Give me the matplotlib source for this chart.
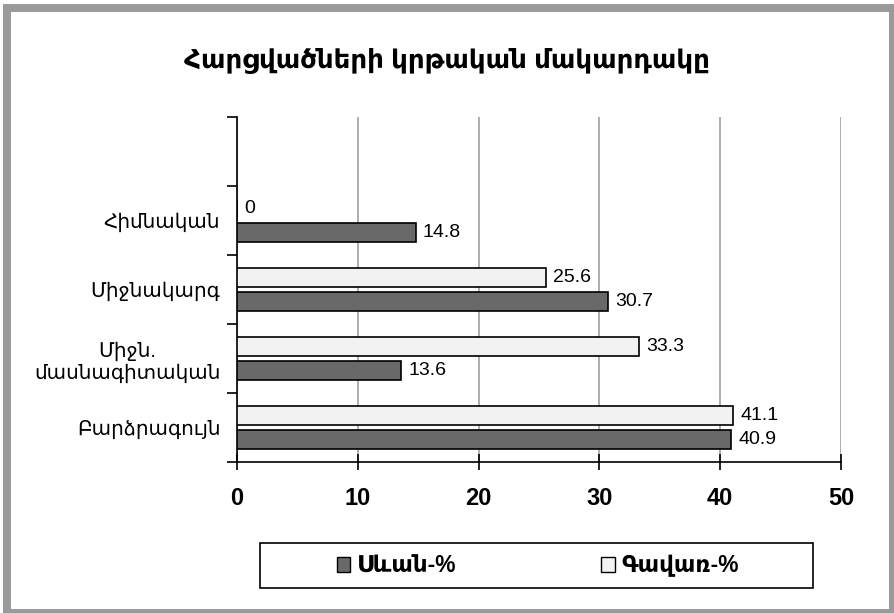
import matplotlib
matplotlib.use("Agg")
import matplotlib.pyplot as plt
from matplotlib.patches import Rectangle, Patch
import numpy as np

title = "Հարցվածների կրթական մակարդակը"
categories = ["Բարձրագույն", "Միջն.\nմասնագիտական", "Միջնակարգ", "Հիմնական", ""]
sevan = [40.9, 13.6, 30.7, 14.8]
gavar = [41.1, 33.3, 25.6, 0]
series_names = ["Սևան-%", "Գավառ-%"]
xticks = [0, 10, 20, 30, 40, 50]

FONT = ["Liberation Sans", "DejaVu Sans"]
plt.rcParams["font.family"] = FONT

W, H = 894, 613
fig = plt.figure(figsize=(W / 100, H / 100), dpi=100, facecolor="white")

# gray frame
fig.patches.append(Rectangle((3 / W, 0), 1 - 3 / W, 1 - 4 / H, transform=fig.transFigure,
                             facecolor="#9a9a9a", edgecolor="none", zorder=-3))
fig.patches.append(Rectangle((11 / W, 4 / H), (889 - 11) / W, (609 - 12) / H, transform=fig.transFigure,
                             facecolor="white", edgecolor="none", zorder=-2))
# legend frame
fig.patches.append(Rectangle((260 / W, 1 - 588 / H), (813 - 260) / W, (588 - 543) / H,
                             transform=fig.transFigure, facecolor="white", edgecolor="black",
                             linewidth=1.2, zorder=-1))

ax = fig.add_axes([237 / W, 1 - 462 / H, (841 - 237) / W, (462 - 117) / H])
ax.set_facecolor("none")

n = len(sevan)
y = np.arange(n)
off = 0.17
h = 0.27
b1 = ax.barh(y - off, sevan, height=h, color="#696969", edgecolor="black", linewidth=1.2, zorder=3)
b2 = ax.barh(y + off, gavar, height=h, color="#f2f2f2", edgecolor="black", linewidth=1.2, zorder=3)
ax.bar_label(b1, labels=[f"{v:g}" for v in sevan], padding=5, fontsize=14, family=FONT)
ax.bar_label(b2, labels=[f"{v:g}" for v in gavar], padding=5, fontsize=14, family=FONT)

ax.set_xlim(0, 50)
ax.set_ylim(-0.5, len(categories) - 0.5)
ax.set_xticks(xticks)
ax.set_xticklabels([str(t) for t in xticks], fontsize=17, fontweight="bold", family=FONT)
ax.xaxis.grid(True, color="#a0a0a0", linewidth=1.2, zorder=0)
ax.set_axisbelow(True)

ax.set_yticks(np.arange(len(categories) + 1) - 0.5, minor=False)
ax.set_yticklabels([])
ax.set_yticks(np.arange(len(categories)), minor=True)
ax.set_yticklabels(categories, minor=True, fontsize=14.4, family=FONT)
ax.tick_params(axis="y", which="minor", length=0, pad=12)
ax.tick_params(axis="y", which="major", length=7, width=1.2, direction="out")
ax.tick_params(axis="x", which="major", length=12, width=1.2, direction="inout", pad=12)
for lbl in ax.get_yticklabels(minor=True):
    lbl.set_multialignment("center")

for s in ["top", "right"]:
    ax.spines[s].set_visible(False)
for s in ["left", "bottom"]:
    ax.spines[s].set_linewidth(1.2)

fig.text(0.5, 1 - 61 / H, title, ha="center", va="center", fontsize=18.8, fontweight="bold", family=FONT)

handles = [Patch(facecolor="#696969", edgecolor="black", linewidth=1.0),
           Patch(facecolor="#f2f2f2", edgecolor="black", linewidth=1.0)]
leg = fig.legend(handles, series_names, loc="center", bbox_to_anchor=(538 / W, 1 - 566 / H),
                 ncol=2, frameon=False,
                 prop={"family": FONT, "weight": "bold", "size": 16.5},
                 handlelength=0.6, handleheight=0.6, handletextpad=0.3,
                 columnspacing=6.3, borderpad=0.3)
leg.set_zorder(5)

fig.savefig("out.png", dpi=100, facecolor=fig.get_facecolor())
